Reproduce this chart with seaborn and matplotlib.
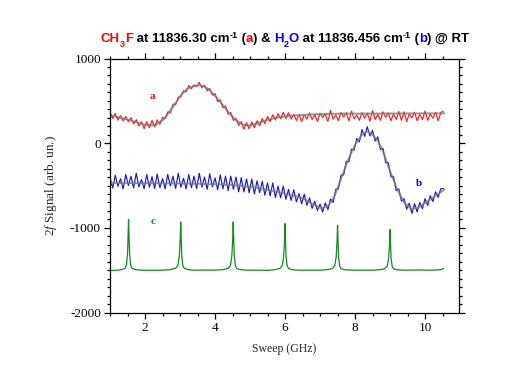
import numpy as np
import pandas as pd
import matplotlib
matplotlib.use("Agg")
import matplotlib.pyplot as plt
import seaborn as sns
from matplotlib.ticker import MultipleLocator

# ---------------- data ----------------
sweep_start, sweep_stop = 1.0, 10.525

red_trace = [370, 292, 350, 272, 325, 262, 315, 252, 302, 227, 277, 202, 252, 172, 254, 183,
             268, 192, 275, 223, 305, 287, 370, 360, 460, 455, 545, 545, 620, 605, 680, 643,
             690, 665, 720, 653, 685, 618, 645, 567, 585, 492, 510, 417, 440, 342, 362, 269,
             290, 209, 254, 164, 242, 170, 251, 181, 265, 205, 290, 230, 315, 253, 335, 273,
             350, 289, 363, 291, 360, 284, 341, 268, 340, 256, 338, 285, 357, 279, 336, 257,
             353, 304, 345, 256, 387, 282, 333, 268, 363, 308, 359, 264, 379, 289, 330, 270,
             360, 295, 355, 260, 385, 280, 340, 270, 370, 305, 355, 265, 345, 280, 375, 270,
             370, 255, 345, 300, 365, 265, 340, 280, 380, 270, 345, 295, 365, 265, 360, 380]

blue_trace = [-410, -530, -380, -510, -420, -540, -370, -500, -390, -530, -355, -515, -430, -540, -370, -520,
              -395, -535, -365, -525, -420, -540, -370, -505, -390, -535, -355, -520, -415, -540, -370, -525,
              -390, -535, -355, -520, -400, -545, -360, -515, -410, -550, -375, -540, -390, -560, -389, -545,
              -400, -575, -408, -576, -423, -585, -423, -600, -445, -585, -450, -615, -470, -622, -469, -641,
              -508, -645, -507, -663, -547, -676, -550, -693, -597, -715, -602, -735, -647, -770, -685, -795,
              -720, -813, -705, -785, -660, -700, -545, -540, -375, -377, -215, -220, -70, -82, 55, 15,
              160, 80, 195, 85, 150, 25, 75, -75, -60, -230, -230, -397, -395, -560, -540, -685,
              -655, -780, -710, -830, -715, -812, -700, -775, -655, -735, -620, -690, -575, -640, -538, -535]

fit_a_x = [1.0, 1.5, 2.0, 2.3, 2.5, 2.7, 2.9, 3.05, 3.2, 3.4, 3.55, 3.7, 3.85, 4.0, 4.2, 4.4,
           4.6, 4.8, 5.0, 5.2, 5.5, 5.8, 6.2, 6.8, 7.5, 8.5, 10.55]
fit_a_y = [330, 280, 215, 212, 270, 370, 490, 580, 640, 675, 685, 670, 625, 560, 460, 360,
           270, 215, 210, 235, 275, 305, 325, 340, 348, 350, 352]

fit_b_x = [1.0, 2.0, 3.0, 4.0, 4.5, 5.0, 5.5, 6.0, 6.5, 6.8, 7.05, 7.25, 7.4, 7.6, 7.8, 8.0,
           8.2, 8.35, 8.5, 8.65, 8.8, 9.0, 9.2, 9.4, 9.6, 9.8, 10.1, 10.3, 10.55]
fit_b_y = [-470, -472, -476, -485, -495, -515, -550, -595, -650, -720, -770, -730, -640, -420, -200, -20,
           100, 140, 100, 30, -100, -330, -540, -700, -775, -760, -680, -620, -550]

etalon_x = [1.00, 1.20, 1.33, 1.43, 1.47, 1.50, 1.515, 1.53, 1.545, 1.56, 1.59, 1.63, 1.73, 1.90,
            2.20, 2.50, 2.72, 2.87, 2.94, 2.98, 3.005, 3.02, 3.035, 3.05, 3.08, 3.12, 3.22, 3.40,
            3.70, 4.00, 4.22, 4.37, 4.44, 4.48, 4.505, 4.52, 4.535, 4.55, 4.58, 4.62, 4.72, 4.90,
            5.20, 5.50, 5.70, 5.85, 5.92, 5.96, 5.985, 6.00, 6.015, 6.03, 6.06, 6.10, 6.20, 6.40,
            6.70, 7.00, 7.20, 7.35, 7.42, 7.46, 7.485, 7.50, 7.515, 7.53, 7.56, 7.60, 7.70, 7.90,
            8.20, 8.50, 8.70, 8.85, 8.92, 8.96, 8.985, 9.00, 9.015, 9.03, 9.06, 9.10, 9.20, 9.40,
            9.80, 10.20, 10.45, 10.53]
etalon_y = [-1505, -1500, -1494, -1478, -1440, -1320, -1120, -900, -1110, -1310, -1440, -1478, -1494, -1500,
            -1502, -1500, -1494, -1478, -1445, -1330, -1140, -930, -1140, -1330, -1445, -1478, -1494, -1500,
            -1498, -1500, -1494, -1480, -1445, -1330, -1140, -930, -1140, -1330, -1445, -1480, -1494, -1500,
            -1500, -1502, -1495, -1480, -1448, -1340, -1155, -950, -1155, -1340, -1448, -1480, -1495, -1500,
            -1500, -1500, -1495, -1482, -1450, -1345, -1165, -970, -1165, -1345, -1450, -1482, -1495, -1500,
            -1500, -1500, -1495, -1483, -1455, -1360, -1195, -1020, -1195, -1360, -1455, -1483, -1495, -1500,
            -1498, -1500, -1495, -1480]

labels = {"a": (2.2, 555, "#ff0000"), "b": (9.83, -472, "#0000cc"), "c": (2.22, -920, "#138a1e")}

x_ticks = [2, 4, 6, 8, 10]
y_ticks = [-2000, -1000, 0, 1000]

# title pieces: (text, colour, kind) kind: n=normal, sub, sup
title_parts = [("CH", "#ff0000", "n"), ("3", "#ff0000", "sub"), ("F", "#ff0000", "n"),
               (" at 11836.30 cm", "black", "n"), ("-1", "black", "sup"), (" (", "black", "n"),
               ("a", "#ff0000", "n"), (") & ", "black", "n"), ("H", "#0000ee", "n"),
               ("2", "#0000ee", "sub"), ("O", "#0000ee", "n"), (" at 11836.456 cm", "black", "n"),
               ("-1", "black", "sup"), (" (", "black", "n"), ("b", "#0000ee", "n"),
               (") @ RT", "black", "n")]

# ---------------- figure ----------------
sns.set_style("ticks")
plt.rcParams["font.family"] = ["Liberation Serif", "DejaVu Serif"]
plt.rcParams["axes.unicode_minus"] = False
plt.rcParams["mathtext.fontset"] = "custom"
plt.rcParams["mathtext.rm"] = "Liberation Serif"
plt.rcParams["mathtext.it"] = "Liberation Serif:italic"

W, H = 524, 383
fig = plt.figure(figsize=(W / 100, H / 100), dpi=100)
ax = fig.add_axes([110 / W, 1 - 312.5 / H, 349 / W, 254 / H])

n = len(red_trace)
sweep = np.linspace(sweep_start, sweep_stop, n)
df_a = pd.DataFrame({"x": sweep, "y": red_trace})
df_b = pd.DataFrame({"x": sweep, "y": blue_trace})
df_fa = pd.DataFrame({"x": fit_a_x, "y": fit_a_y})
df_fb = pd.DataFrame({"x": fit_b_x, "y": fit_b_y})
df_c = pd.DataFrame({"x": etalon_x, "y": etalon_y})

sns.lineplot(data=df_a, x="x", y="y", ax=ax, color="#ff1a1a", lw=0.85, sort=False, estimator=None)
sns.lineplot(data=df_b, x="x", y="y", ax=ax, color="#1a1acc", lw=0.85, sort=False, estimator=None)
sns.lineplot(data=df_fa, x="x", y="y", ax=ax, color="#7a7a7a", lw=1.4, sort=False, estimator=None, alpha=0.8)
sns.lineplot(data=df_fb, x="x", y="y", ax=ax, color="#7a7a7a", lw=1.4, sort=False, estimator=None, alpha=0.8)
sns.lineplot(data=df_c, x="x", y="y", ax=ax, color="#138a1e", lw=0.9, sort=False, estimator=None)

for k, (lx, ly, col) in labels.items():
    ax.text(lx, ly, k, color=col, fontsize=8, fontweight="bold", ha="center", va="center")

ax.set_xlim(1.0, 10.97)
ax.set_ylim(-2000, 1000)
ax.set_xticks(x_ticks)
ax.set_yticks(y_ticks)
ax.xaxis.set_minor_locator(MultipleLocator(0.5))
ax.yaxis.set_minor_locator(MultipleLocator(100))
ax.tick_params(which="both", direction="out", top=True, right=True, labeltop=False,
               labelright=False, colors="black", labelsize=9.5, width=0.9)
ax.tick_params(which="major", length=4.5, pad=2)
ax.tick_params(which="minor", length=2.5)
for s in ax.spines.values():
    s.set_visible(True)
    s.set_color("black")
    s.set_linewidth(0.9)

ax.set_xlabel("Sweep (GHz)", fontsize=8.5, labelpad=7)
ax.set_ylabel("2$\\mathit{f}$ Signal (arb. un.)", fontsize=9.5, labelpad=8)

# ---- multi-colour title, pieces laid out side by side ----
fig.canvas.draw()
renderer = fig.canvas.get_renderer()
big, small = 9.5, 6.5
texts = []
total = 0.0
for txt, col, kind in title_parts:
    size = big if kind == "n" else small
    t = fig.text(0, 0, txt, color=col, fontsize=size, fontweight="bold",
                 family="Liberation Sans", ha="left", va="baseline")
    w = t.get_window_extent(renderer).width
    texts.append((t, w, kind))
    total += w
x0 = 285 - total / 2
baseline = H - 42
for t, w, kind in texts:
    dy = {"n": 0, "sub": -5, "sup": 4}[kind]
    t.set_position((x0 / W, (baseline + dy) / H))
    x0 += w

fig.savefig("out.png", dpi=100, facecolor="white")
